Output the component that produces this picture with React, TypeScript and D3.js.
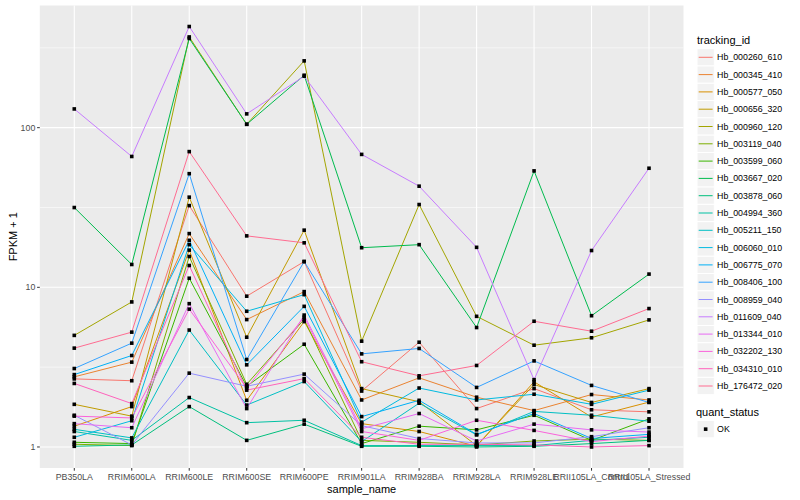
import React from 'react';
import * as d3 from 'd3';

const sampleNames = ['PB350LA', 'RRIM600LA', 'RRIM600LE', 'RRIM600SE', 'RRIM600PE', 'RRIM901LA', 'RRIM928BA', 'RRIM928LA', 'RRIM928LE', 'RRII105LA_Control', 'RRII105LA_Stressed'];

const trackingIds = ['Hb_000260_610', 'Hb_000345_410', 'Hb_000577_050', 'Hb_000656_320', 'Hb_000960_120', 'Hb_003119_040', 'Hb_003599_060', 'Hb_003667_020', 'Hb_003878_060', 'Hb_004994_360', 'Hb_005211_150', 'Hb_006060_010', 'Hb_006775_070', 'Hb_008406_100', 'Hb_008959_040', 'Hb_011609_040', 'Hb_013344_010', 'Hb_032202_130', 'Hb_034310_010', 'Hb_176472_020'];

const trackColors = ['#F8766D', '#EA8331', '#D89000', '#C09B00', '#A3A500', '#7CAE00', '#39B600', '#00BB4E', '#00BF7D', '#00C1A3', '#00BFC4', '#00BAE0', '#00B0F6', '#35A2FF', '#9590FF', '#C77CFF', '#E76BF3', '#FA62DB', '#FF62BC', '#FF6C91'];

const hb_000260_610 = [2.67, 2.6, 32.5, 8.8, 14.5, 2.24, 4.53, 1.74, 2.32, 1.71, 1.66];
const hb_000345_410 = [2.75, 3.4, 21.7, 6.28, 9.4, 1.97, 2.71, 2.05, 1.69, 2.13, 1.97];
const hb_000577_050 = [1.35, 1.79, 17.1, 1.96, 6.1, 1.4, 1.25, 1.01, 2.56, 1.54, 1.91];
const hb_000656_320 = [1.85, 1.56, 36.7, 4.87, 22.8, 2.32, 1.92, 1.02, 2.46, 1.9, 2.32];
const hb_000960_120 = [5.0, 8.1, 370, 105, 262, 4.6, 33, 6.58, 4.34, 4.83, 6.25];
const hb_003119_040 = [1.04, 1.02, 15.6, 2.47, 6.3, 1.1, 1.07, 1.03, 1.09, 1.12, 1.1];
const hb_003599_060 = [1.07, 1.05, 11.4, 2.4, 4.4, 1.05, 1.35, 1.28, 1.58, 1.1, 1.5];
const hb_003667_020 = [31.6, 13.9, 362, 105, 213, 17.7, 18.5, 5.6, 53.6, 6.64, 12.1];
const hb_003878_060 = [1.01, 1.03, 1.79, 1.1, 1.39, 1.01, 1.01, 1.0, 1.01, 1.05, 1.1];
const hb_004994_360 = [1.25, 1.1, 2.04, 1.42, 1.47, 1.02, 1.02, 1.02, 1.02, 1.1, 1.15];
const hb_005211_150 = [1.29, 1.14, 5.4, 1.83, 2.57, 1.08, 1.88, 1.19, 1.67, 1.58, 1.45];
const hb_006060_010 = [1.15, 1.46, 18.5, 7.08, 9.0, 1.43, 2.34, 1.97, 2.14, 1.85, 2.27];
const hb_006775_070 = [2.84, 3.74, 19.7, 3.27, 7.6, 1.55, 1.96, 1.2, 1.62, 1.13, 1.2];
const hb_008406_100 = [3.1, 4.47, 51.5, 3.53, 14.5, 3.83, 4.14, 2.36, 3.46, 2.43, 1.9];
const hb_008959_040 = [1.58, 1.03, 2.9, 2.4, 2.86, 1.36, 1.13, 1.06, 1.06, 1.16, 1.32];
const hb_011609_040 = [131, 66, 430, 122, 210, 68, 43, 17.8, 2.64, 17, 55.7];
const hb_013344_010 = [1.4, 1.32, 7.9, 1.74, 6.7, 1.3, 1.62, 1.09, 1.39, 1.28, 1.24];
const hb_032202_130 = [1.56, 1.52, 7.3, 2.34, 6.5, 1.25, 1.1, 1.47, 1.27, 1.08, 1.17];
const hb_034310_010 = [2.5, 1.87, 13.7, 2.27, 2.68, 1.15, 1.04, 1.04, 1.03, 1.0, 1.02];
const hb_176472_020 = [4.16, 5.24, 70.8, 21, 19, 3.42, 2.79, 3.24, 6.13, 5.31, 7.36];

const seriesValues = [hb_000260_610, hb_000345_410, hb_000577_050, hb_000656_320, hb_000960_120, hb_003119_040, hb_003599_060, hb_003667_020, hb_003878_060, hb_004994_360, hb_005211_150, hb_006060_010, hb_006775_070, hb_008406_100, hb_008959_040, hb_011609_040, hb_013344_010, hb_032202_130, hb_034310_010, hb_176472_020];

const yTickValues = [1, 10, 100];
const yMinorValues = [Math.sqrt(10), Math.sqrt(1000), Math.sqrt(100000)];
const quantStatus = ['OK'];

const FONT = '"Liberation Sans", Arial, Helvetica, sans-serif';

export default function App() {
  const W = 800, H = 500;
  const pl = 39.8, pr = 683.5, pt = 5.5, pb = 468;
  const x = d3.scalePoint<string>().domain(sampleNames).range([pl, pr]).padding(0.6);
  const all = seriesValues.flat();
  const lo = Math.log10(d3.min(all) as number);
  const hi = Math.log10(d3.max(all) as number);
  const pad = (hi - lo) * 0.05;
  const y = d3.scaleLog().domain([Math.pow(10, lo - pad), Math.pow(10, hi + pad)]).range([pb, pt]);
  const line = d3.line<number>().x((_, i) => x(sampleNames[i]) as number).y(d => y(d));

  const keyX = 697, keyW = 17.3, keyStep = 17.3, key0 = 57.3 - keyStep / 2;

  return (
    <div style={{ position: 'absolute', left: 0, top: 0 }}>
      <svg width={W} height={H} style={{ display: 'block', fontFamily: FONT }}>
        <rect x={0} y={0} width={W} height={H} fill="#FFFFFF" />
        <rect x={pl} y={pt} width={pr - pl} height={pb - pt} fill="#EBEBEB" />
        {yMinorValues.map((v, i) => (
          <line key={'mn' + i} x1={pl} x2={pr} y1={y(v)} y2={y(v)} stroke="#FFFFFF" strokeWidth={0.55} />
        ))}
        {yTickValues.map((v, i) => (
          <line key={'mj' + i} x1={pl} x2={pr} y1={y(v)} y2={y(v)} stroke="#FFFFFF" strokeWidth={1.1} />
        ))}
        {sampleNames.map(s => (
          <line key={'vx' + s} x1={x(s)} x2={x(s)} y1={pt} y2={pb} stroke="#FFFFFF" strokeWidth={1.1} />
        ))}
        {seriesValues.map((vals, i) => (
          <path key={'ln' + i} d={line(vals) as string} fill="none" stroke={trackColors[i]} strokeWidth={1} />
        ))}
        {seriesValues.map((vals, i) => (
          <g key={'pt' + i}>
            {vals.map((v, j) => (
              <rect key={j} x={(x(sampleNames[j]) as number) - 1.8} y={y(v) - 1.8} width={3.6} height={3.6} fill="#000000" />
            ))}
          </g>
        ))}
        {/* y axis */}
        {yTickValues.map((v, i) => (
          <g key={'yt' + i}>
            <line x1={pl - 2.7} x2={pl} y1={y(v)} y2={y(v)} stroke="#333333" strokeWidth={1} />
            <text x={pl - 4.5} y={y(v)} dy="0.35em" textAnchor="end" fontSize={8.8} fill="#4D4D4D">{String(v)}</text>
          </g>
        ))}
        {/* x axis */}
        {sampleNames.map(s => (
          <g key={'xt' + s}>
            <line x1={x(s)} x2={x(s)} y1={pb} y2={pb + 2.7} stroke="#333333" strokeWidth={1} />
            <text x={x(s)} y={pb + 12.3} textAnchor="middle" fontSize={8.8} fill="#4D4D4D">{s}</text>
          </g>
        ))}
        <text x={(pl + pr) / 2} y={493} textAnchor="middle" fontSize={11} fill="#000000">sample_name</text>
        <text transform={`translate(16.5, ${(pt + pb) / 2}) rotate(-90)`} textAnchor="middle" fontSize={11} fill="#000000">FPKM + 1</text>
        {/* legend: tracking_id */}
        <text x={keyX} y={43.5} fontSize={11} fill="#000000">tracking_id</text>
        {trackingIds.map((id, i) => {
          const ky = key0 + i * keyStep;
          return (
            <g key={'lg' + id}>
              <rect x={keyX} y={ky} width={keyW} height={keyStep} fill="#F2F2F2" stroke="#FFFFFF" strokeWidth={1} />
              <line x1={keyX + 1.7} x2={keyX + keyW - 1.7} y1={ky + keyStep / 2} y2={ky + keyStep / 2} stroke={trackColors[i]} strokeWidth={1} />
              <text x={keyX + keyW + 2.8} y={ky + keyStep / 2} dy="0.35em" fontSize={8.8} fill="#000000">{id}</text>
            </g>
          );
        })}
        {/* legend: quant_status */}
        <text x={keyX - 1} y={416} fontSize={11} fill="#000000">quant_status</text>
        {quantStatus.map((q, i) => {
          const ky = 420.5 + i * keyStep;
          return (
            <g key={'qs' + q}>
              <rect x={keyX} y={ky} width={keyW} height={keyStep} fill="#F2F2F2" stroke="#FFFFFF" strokeWidth={1} />
              <rect x={keyX + keyW / 2 - 1.8} y={ky + keyStep / 2 - 1.8} width={3.6} height={3.6} fill="#000000" />
              <text x={keyX + keyW + 2.8} y={ky + keyStep / 2} dy="0.35em" fontSize={8.8} fill="#000000">{q}</text>
            </g>
          );
        })}
      </svg>
    </div>
  );
}
